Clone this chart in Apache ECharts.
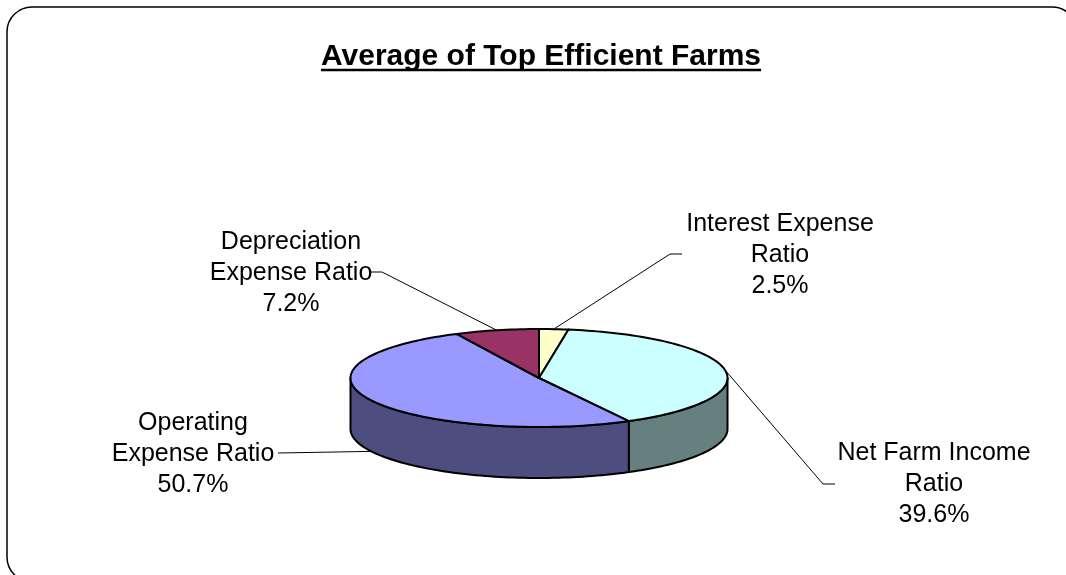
<!DOCTYPE html>
<html>
<head>
<meta charset="utf-8">
<title>Average of Top Efficient Farms</title>
<script src="https://cdn.jsdelivr.net/npm/echarts@6/dist/echarts.min.js"></script>
<style>
  html, body { margin: 0; padding: 0; background: #ffffff; }
  #chart { width: 1066px; height: 575px; }
</style>
</head>
<body>
<div id="chart"></div>
<script>
// Slices, listed clockwise starting from 12 o'clock
const categories = ['Interest Expense Ratio', 'Net Farm Income Ratio', 'Operating Expense Ratio', 'Depreciation Expense Ratio'];
const values = [2.5, 39.6, 50.7, 7.2];
// Wrapped label text for each slice (the percentage is appended below)
const labelNames = [
  ['Interest Expense', 'Ratio'],
  ['Net Farm Income', 'Ratio'],
  ['Operating', 'Expense Ratio'],
  ['Depreciation', 'Expense Ratio']
];

// Styling
const topColors = ['#FFFFCC', '#CCFFFF', '#9999FF', '#993366'];
const sideColors = ['#808066', '#668080', '#4D4D80', '#4D1A33'];
const FONT = '"Liberation Sans", Arial, Helvetica, sans-serif';
const TITLE = 'Average of Top Efficient Farms';

// Pie geometry (tilted disc)
const PIE = { cx: 539, cy: 378, rx: 188.5, ry: 49, depth: 51 };

// Label placement: centre of the text block, start of the leader line, and its elbow
const labelLayout = [
  { pos: [780, 255], from: [682, 254], elbow: [670, 254] },
  { pos: [934, 484], from: [835, 484], elbow: [823, 484] },
  { pos: [193, 454], from: [278, 453], elbow: null },
  { pos: [291, 273], from: [371, 272], elbow: [382, 272] }
];

// Angles (degrees, clockwise from top) derived from the values
const total = values.reduce((s, v) => s + v, 0);
let acc = 0;
const sliceData = values.map((v, i) => {
  const start = acc / total * 360;
  acc += v;
  const end = acc / total * 360;
  return { name: categories[i], value: [start, end, v] };
});

function pt(deg, dy) {
  const r = deg * Math.PI / 180;
  return [PIE.cx + PIE.rx * Math.sin(r), PIE.cy - PIE.ry * Math.cos(r) + (dy || 0)];
}

function arc(a1, a2, dy) {
  const n = Math.max(2, Math.ceil(Math.abs(a2 - a1) / 1.5));
  const pts = [];
  for (let k = 0; k <= n; k++) pts.push(pt(a1 + (a2 - a1) * k / n, dy));
  return pts;
}

function renderItem(params, api) {
  const i = params.dataIndex;
  const a1 = api.value(0);
  const a2 = api.value(1);
  const v = api.value(2);
  const children = [];

  // Visible side wall: only the front half (90..270 deg) faces the viewer
  const s = Math.max(a1, 90), e = Math.min(a2, 270);
  if (e > s) {
    const pts = arc(s, e, 0).concat(arc(e, s, PIE.depth));
    children.push({
      type: 'polygon', z2: 1,
      shape: { points: pts },
      style: { fill: sideColors[i], stroke: '#000', lineWidth: 2, lineJoin: 'round' }
    });
  }

  // Top face
  const topPts = [[PIE.cx, PIE.cy]].concat(arc(a1, a2, 0));
  children.push({
    type: 'polygon', z2: 10,
    shape: { points: topPts },
    style: { fill: topColors[i], stroke: '#000', lineWidth: 2, lineJoin: 'round' }
  });

  // Leader line to the middle of the slice
  const m = (a1 + a2) / 2;
  const front = m > 90 && m < 270;
  const anchor = pt(m, front ? PIE.depth : 0);
  const L = labelLayout[i];
  const linePts = [L.from];
  if (L.elbow) linePts.push(L.elbow);
  linePts.push(anchor);
  children.push({
    type: 'polyline', z2: 15,
    shape: { points: linePts },
    style: { stroke: '#000', lineWidth: 1, fill: null }
  });

  // Label text
  children.push({
    type: 'text', z2: 20,
    style: {
      text: labelNames[i].concat([v.toFixed(1) + '%']).join('\n'),
      x: L.pos[0], y: L.pos[1],
      align: 'center', verticalAlign: 'middle',
      fontFamily: FONT, fontSize: 25, lineHeight: 31, fill: '#000'
    }
  });

  return { type: 'group', children: children };
}

// Title width for the underline
const ctx = document.createElement('canvas').getContext('2d');
ctx.font = 'bold 30px ' + FONT;
const titleW = ctx.measureText(TITLE).width;
const TITLE_X = 541;

const chart = echarts.init(document.getElementById('chart'), null, { renderer: 'canvas' });
chart.setOption({
  backgroundColor: '#ffffff',
  animation: false,
  graphic: [
    {
      type: 'rect', silent: true,
      shape: { x: 7, y: 7, width: 1070, height: 575, r: 25 },
      style: { fill: null, stroke: '#000', lineWidth: 1.5 }
    },
    {
      type: 'text', silent: true,
      style: {
        text: TITLE, x: TITLE_X, y: 57,
        align: 'center', verticalAlign: 'middle',
        fontFamily: FONT, fontSize: 30, fontWeight: 'bold', fill: '#000'
      }
    },
    {
      type: 'line', silent: true,
      shape: { x1: TITLE_X - titleW / 2, y1: 70, x2: TITLE_X + titleW / 2, y2: 70 },
      style: { stroke: '#000', lineWidth: 2.5 }
    }
  ],
  series: [{
    type: 'custom',
    coordinateSystem: 'none',
    silent: true,
    renderItem: renderItem,
    data: sliceData
  }]
});
</script>
</body>
</html>
